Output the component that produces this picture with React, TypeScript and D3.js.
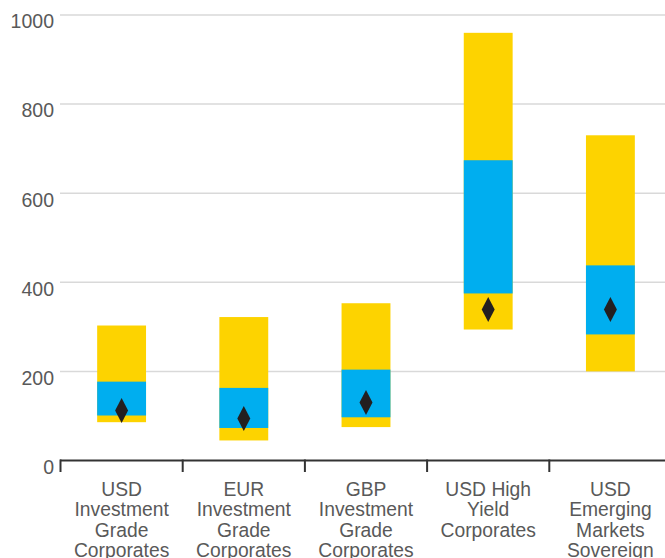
import React from "react";
import * as d3 from "d3";

const categories: string[][] = [
  ["USD", "Investment", "Grade", "Corporates"],
  ["EUR", "Investment", "Grade", "Corporates"],
  ["GBP", "Investment", "Grade", "Corporates"],
  ["USD High", "Yield", "Corporates"],
  ["USD", "Emerging", "Markets", "Sovereign"],
];
const outerLow = [86, 45, 75, 294, 200];
const innerLow = [101, 73, 97, 375, 283];
const innerHigh = [177, 163, 204, 674, 438];
const outerHigh = [303, 322, 353, 960, 730];
const current = [112, 94, 130, 339, 339];
const yTicks = [0, 200, 400, 600, 800, 1000];

const W = 665;
const H = 558;
const YELLOW = "#FDD300";
const BLUE = "#00AEEF";
const TEXT = "#595959";
const FONT = "'Liberation Sans', Arial, sans-serif";

export default function App() {
  const ids = categories.map((_, i) => String(i));
  const x = d3.scaleBand<string>().domain(ids).range([60.5, 671.5]).paddingInner(0).paddingOuter(0);
  const y = d3.scaleLinear().domain([0, 1000]).range([460.5, 15]);
  const bw = x.bandwidth() * 0.4;
  const dw = 6.5;
  const dh = 12.5;

  return (
    <svg width={W} height={H} style={{ position: "absolute", left: 0, top: 0 }} fontFamily={FONT}>
      {yTicks.filter((t) => t > 0).map((t) => (
        <line key={"g" + t} x1={60} x2={W} y1={y(t)} y2={y(t)} stroke="#d9d9d9" strokeWidth={1.5} />
      ))}
      {yTicks.map((t) => (
        <text key={"t" + t} x={54} y={y(t) + 13.3} textAnchor="end" fontSize={19.5} fill={TEXT}>
          {t}
        </text>
      ))}
      {ids.map((id, i) => {
        const cx = x(id)! + x.bandwidth() / 2;
        const x0 = cx - bw / 2;
        const cy = y(current[i]);
        return (
          <g key={"b" + id}>
            <rect x={x0} width={bw} y={y(outerHigh[i])} height={y(outerLow[i]) - y(outerHigh[i])} fill={YELLOW} />
            <rect x={x0} width={bw} y={y(innerHigh[i])} height={y(innerLow[i]) - y(innerHigh[i])} fill={BLUE} />
            <path
              d={`M${cx},${cy - dh}L${cx + dw},${cy}L${cx},${cy + dh}L${cx - dw},${cy}Z`}
              fill="#231F20"
            />
          </g>
        );
      })}
      <line x1={60} x2={W} y1={y(0)} y2={y(0)} stroke="#333" strokeWidth={2} />
      {ids.map((id) => (
        <line key={"k" + id} x1={x(id)!} x2={x(id)!} y1={y(0) - 1} y2={y(0) + 11.5} stroke="#333" strokeWidth={2} />
      ))}
      {ids.map((id, i) => {
        const cx = x(id)! + x.bandwidth() / 2;
        return (
          <text key={"c" + id} x={cx} textAnchor="middle" fontSize={19.3} fill={TEXT}>
            {categories[i].map((ln, j) => (
              <tspan key={j} x={cx} y={495.5 + j * 20.6}>
                {ln}
              </tspan>
            ))}
          </text>
        );
      })}
    </svg>
  );
}
